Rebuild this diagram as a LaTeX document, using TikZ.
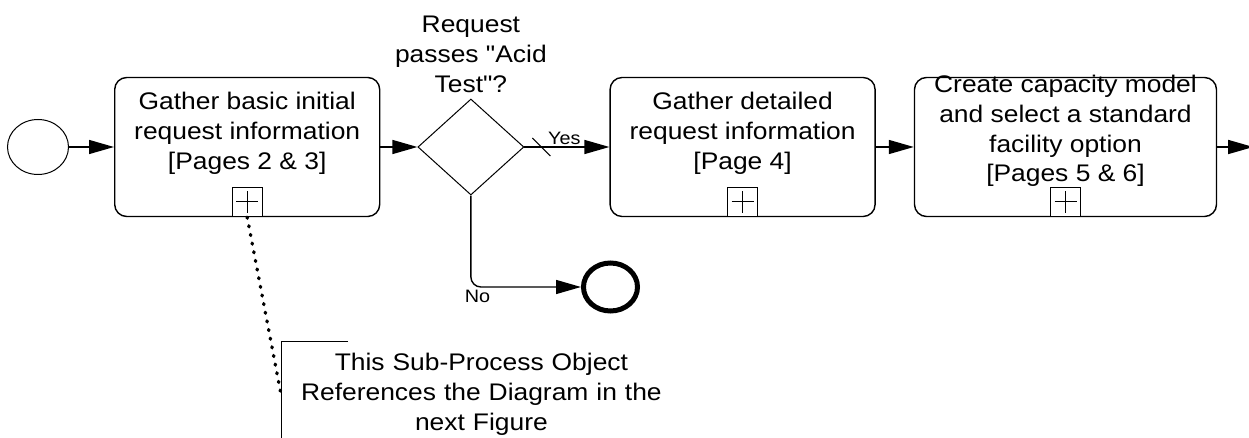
\documentclass[tikz,border=0pt]{standalone}
\usepackage{fontspec}
\setmainfont{Liberation Sans}[FakeStretch=1.1,Ligatures=TeXOff]
\usetikzlibrary{arrows.meta,positioning,shapes.geometric}
\newcommand{\taskfont}{\fontsize{12}{14.9}\selectfont}
\newcommand{\labfont}{\fontsize{9}{11}\selectfont}

\begin{document}
\begin{tikzpicture}[
   x=0.5pt, y=-0.5pt,
   subproc/.style={draw, rounded corners=6pt, minimum width=132.5pt,
      minimum height=69.5pt, inner sep=0pt, line width=0.7pt},
   tasktext/.style={align=center, inner sep=0pt, font=\taskfont},
   plusmark/.style={draw, fill=white, minimum width=15pt, minimum height=14.5pt,
      inner sep=0pt, anchor=south, line width=0.7pt,
      path picture={
         \draw[line width=0.5pt] ([xshift=-5.5pt]path picture bounding box.center)
            -- ([xshift=5.5pt]path picture bounding box.center);
         \draw[line width=0.5pt] ([yshift=-5.5pt]path picture bounding box.center)
            -- ([yshift=5.5pt]path picture bounding box.center);}},
   gateway/.style={draw, diamond, minimum width=53pt, minimum height=48pt,
      inner sep=0pt, line width=0.5pt},
   gatelabel/.style={align=center, inner sep=0pt, font=\taskfont},
   startevent/.style={draw, ellipse, minimum width=30.5pt, minimum height=27.5pt,
      inner sep=0pt, line width=0.5pt},
   endevent/.style={draw, ellipse, minimum width=27pt, minimum height=24pt,
      inner sep=0pt, line width=2.5pt},
   flow/.style={-{Triangle[length=12.5pt,width=7pt]}, line width=0.7pt},
   flowlab/.style={font=\labfont, inner sep=1pt},
   assoc/.style={line width=1.7pt, line cap=round, dash pattern=on 0.5pt off 3.9pt},
   note/.style={align=center, text width=200pt, inner xsep=0pt, inner ysep=5.5pt,
      font=\taskfont, anchor=north west}
]
\useasboundingbox (0,0) rectangle (1249,438);

\node[startevent] (start) at (38,147) {};
\node[subproc, right=22.5pt of start] (basic) {};
\node[tasktext] (basictxt) at ([yshift=7pt]basic.center)
   {Gather basic initial\\request information\\{[}Pages 2 \& 3{]}};
\node[plusmark] (basicplus) at (basic.south) {};

\node[gateway, right=18.5pt of basic] (acid) {};
\node[gatelabel, above=2.75pt of acid] (acidq) {Request\\passes "Acid\\Test"?};

\node[subproc, right=42.5pt of acid] (detail) {};
\node[tasktext] (detailtxt) at ([yshift=7pt]detail.center)
   {Gather detailed\\request information\\{[}Page 4{]}};
\node[plusmark] (detailplus) at (detail.south) {};

\node[subproc, minimum width=151pt, right=19pt of detail] (capacity) {};
\node[tasktext] (capacitytxt) at ([yshift=8pt]capacity.center)
   {Create capacity model\\and select a standard\\facility option\\{[}Pages 5 \& 6{]}};
\node[plusmark] (capacityplus) at (capacity.south) {};
\coordinate[right=18pt of capacity] (out);

\node[endevent] (stop) at (610.5,287) {};
\node[note] (ref) at (281,342)
   {This Sub-Process Object\\References the Diagram in the\\next Figure};

% sequence flow
\draw[flow] (start) -- (basic);
\draw[flow] (basic) -- (acid);
\draw[flow] (acid) -- node[pos=0.47, flowlab, above] {Yes} coordinate[pos=0.2] (dflt) (detail);
\draw[line width=0.5pt] ([shift={(-9,-9)}]dflt) -- ([shift={(9,9)}]dflt);
\draw[flow] (detail) -- (capacity);
\draw[flow] (capacity) -- (out);
\draw[flow, rounded corners=5pt] (acid) |- node[pos=0.53, flowlab, below] {No} (stop);

% annotation
\draw[assoc] (basicplus.south) -- (ref.west);
\draw[line width=0.5pt] ([xshift=33.5pt]ref.north west) -- (ref.north west) -- (ref.south west);
\end{tikzpicture}
\end{document}
